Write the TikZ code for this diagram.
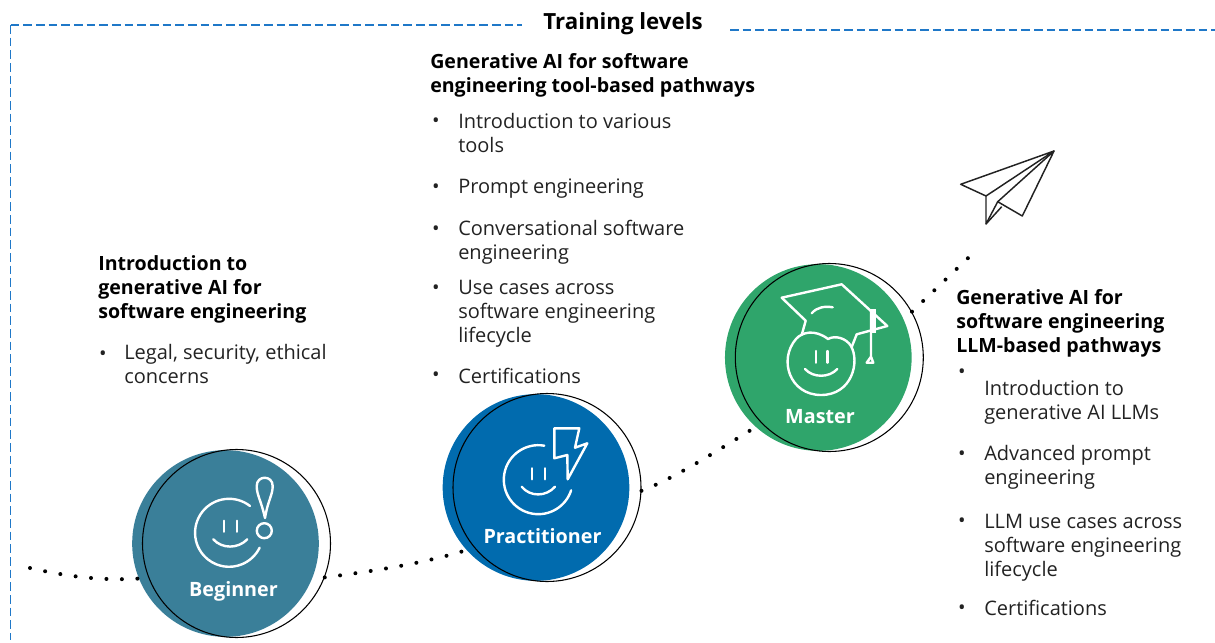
\documentclass[tikz,border=0pt]{standalone}
\usepackage{fontspec}
\setmainfont{Open Sans}
\usetikzlibrary{positioning}
\definecolor{framecolor}{HTML}{1F78C8}
\definecolor{beginnercolor}{HTML}{3A7F99}
\definecolor{practitionercolor}{HTML}{016BAE}
\definecolor{mastercolor}{HTML}{2FA56B}
\definecolor{inkcolor}{HTML}{222222}
\tikzstyle{levelfill} = [circle, minimum size=140pt, inner sep=0pt]
\tikzstyle{levelring} = [circle, minimum size=141pt, inner sep=0pt, draw=black, line width=0.8pt]
\tikzstyle{levellabel} = [text=white, font=\fontsize{14.8}{17}\selectfont\bfseries]
\tikzstyle{icon} = [draw=white, line width=1.8pt, line cap=round, line join=round]
\tikzstyle{plane} = [draw=inkcolor, line width=1.1pt, line join=round]
\tikzstyle{dotline} = [line width=3pt, line cap=round, dash pattern=on 0pt off 11.6pt, black]
\tikzstyle{frame} = [draw=framecolor, line width=0.8pt, dash pattern=on 6.5pt off 3pt]
\tikzstyle{heading} = [anchor=north west, inner sep=0pt, yshift=-1.2pt, align=left, font=\fontsize{14.7}{18}\selectfont\bfseries]
\tikzstyle{itemtext} = [anchor=north west, inner sep=0pt, yshift=-1.2pt, align=left, text=inkcolor, font=\fontsize{15}{18}\selectfont]
\tikzstyle{itembullet} = [inner sep=0pt, yshift=-1.5pt, text=inkcolor, font=\fontsize{15}{18}\selectfont]
\begin{document}
\begin{tikzpicture}[x=0.75pt, y=-0.75pt, node distance=8.25pt]
\useasboundingbox (0,0) rectangle (1215,643);

% frame
\coordinate (frameLeft) at (10.5,640);
\coordinate (frameCorner) at (10.5,25);
\coordinate (frameTop) at (522,25);
\coordinate (frameRightA) at (730,30);
\coordinate (frameRightB) at (1215,30);
\draw [frame] (frameCorner) -- (frameLeft);
\draw [frame] (frameCorner) -- (frameTop);
\draw [frame] (frameRightA) -- (frameRightB);
\node (title) at (623,23.5) {\fontsize{16.7}{19}\selectfont\bfseries Training levels};

% levels
\node (beginnerFill) [levelfill, fill=beginnercolor] at (225.5,543.5) {};
\node (beginner) [levelring, right=of beginnerFill.center, anchor=center] {};
\node (practitionerFill) [levelfill, fill=practitionercolor] at (536,487.5) {};
\node (practitioner) [levelring, right=of practitionerFill.center, anchor=center] {};
\node (masterFill) [levelfill, fill=mastercolor] at (818.3,357.5) {};
\node (master) [levelring, right=of masterFill.center, anchor=center] {};
\node (beginnerLabel) [levellabel] at (233.5,591.5) {Beginner};
\node (practitionerLabel) [levellabel] at (542.5,536.5) {Practitioner};
\node (masterLabel) [levellabel] at (820,416.5) {Master};

% dotted path
\coordinate (dotStart) at (30,568);
\coordinate (dotEnd) at (968.5,257.6);
\draw [dotline] (dotStart) .. controls (65,576) and (100,581) .. (beginnerFill.202);
\draw [dotline] (beginner.-21) .. controls (375,571) and (425,563) .. (practitionerFill.222);
\draw [dotline] (practitioner.-2) .. controls (675,478) and (715,452) .. (masterFill.228);
\draw [dotline] (master.29) -- (dotEnd);

% beginner icon
\draw [icon] (250,506) arc (-52:-334:34);
\draw [icon] (224,520.7) -- (224,531.7) (236.7,520.7) -- (236.7,531.7);
\draw [icon] (213.3,539.3) .. controls (222,549) and (238,549) .. (247.3,539.3);
\draw [icon] (265,518) .. controls (261,500) and (256.7,495) .. (256.7,486) .. controls (256.7,475) and (272.7,475) .. (272.7,486) .. controls (272.7,495) and (268,500) .. (265,518);
\draw [icon] (264.3,530.7) circle (7.5);

% practitioner icon
\draw [icon] (544.3,445.7) arc (-80:-342:34.5);
\draw [icon] (531.7,468.3) -- (531.7,479.3) (544.7,468.3) -- (544.7,479.3);
\draw [icon] (521.7,486.7) .. controls (530,497) and (546,497) .. (555,486.7);
\draw [icon] (554.3,428.3) -- (579.3,428.3) -- (575,447.7) -- (587.3,443.3) -- (567.7,479.3) -- (567.3,455) -- (554.3,458.3) -- cycle;

% master icon
\draw [icon] (781.7,297.7) -- (841.7,284.3) -- (887.3,326) -- (856.7,334.3) -- (851.7,347);
\draw [icon] (781.7,297.7) -- (805.7,320.7) -- (801.7,335);
\draw [icon] (811.7,313.3) .. controls (817,307) and (825,306) .. (832.7,307.3);
\draw [icon] (796,339) .. controls (802,332) and (815,329) .. (828,339) .. controls (835,335) and (846,338) .. (851,346) .. controls (860,362) and (852,395) .. (821,395) .. controls (790,395) and (778,360) .. (796,339);
\draw [icon] (816,351) -- (816,362.7) (827.3,351) -- (827.3,362.7);
\draw [icon] (805,369) .. controls (813,378) and (829,378) .. (837.3,369);
\draw [icon] (871,310) -- (871,356.7) -- (866.7,362.7) -- (873.3,362.7) -- (871,356.7);
\fill [white] (869.5,309.3) rectangle (875.7,333);

% paper plane
\draw [plane] (1054,151) -- (960.7,184.3) -- (986,196) -- cycle;
\draw [plane] (986,196) -- (986,224) -- (997.7,201.7) -- (1054,151) -- (1022.3,216) -- (997.7,201.7);
\draw [plane] (986,224) -- (1001.7,206.7);

% beginner text
\node (beginnerHead) [heading] at (98,254) {Introduction to\\generative AI for\\software engineering};
\node (beginnerBulletA) [itembullet] at (103,354) {•};
\node (beginnerItemA) [itemtext] at (124,342) {Legal, security, ethical\\concerns};

% practitioner text
\node (practitionerHead) [heading] at (430,52) {Generative AI for software\\engineering tool-based pathways};
\node (practitionerBulletA) [itembullet] at (436,121) {•};
\node (practitionerItemA) [itemtext] at (458,111) {Introduction to various\\tools};
\node (practitionerBulletB) [itembullet] at (436,187) {•};
\node (practitionerItemB) [itemtext] at (458,177) {Prompt engineering};
\node (practitionerBulletC) [itembullet] at (436,229) {•};
\node (practitionerItemC) [itemtext] at (458,218) {Conversational software\\engineering};
\node (practitionerBulletD) [itembullet] at (436,288) {•};
\node (practitionerItemD) [itemtext] at (458,278) {Use cases across\\software engineering\\lifecycle};
\node (practitionerBulletE) [itembullet] at (436,375) {•};
\node (practitionerItemE) [itemtext] at (458,366) {Certifications};

% master text
\node (masterHead) [heading] at (956,288) {Generative AI for\\software engineering\\LLM-based pathways};
\node (masterBulletA) [itembullet] at (962,372) {•};
\node (masterItemA) [itemtext] at (984,378) {Introduction to\\generative AI LLMs};
\node (masterBulletB) [itembullet] at (962,454) {•};
\node (masterItemB) [itemtext] at (984,443) {Advanced prompt\\engineering};
\node (masterBulletC) [itembullet] at (962,521) {•};
\node (masterItemC) [itemtext] at (984,512) {LLM use cases across\\software engineering\\lifecycle};
\node (masterBulletD) [itembullet] at (962,608) {•};
\node (masterItemD) [itemtext] at (984,598) {Certifications};

\end{tikzpicture}
\end{document}
